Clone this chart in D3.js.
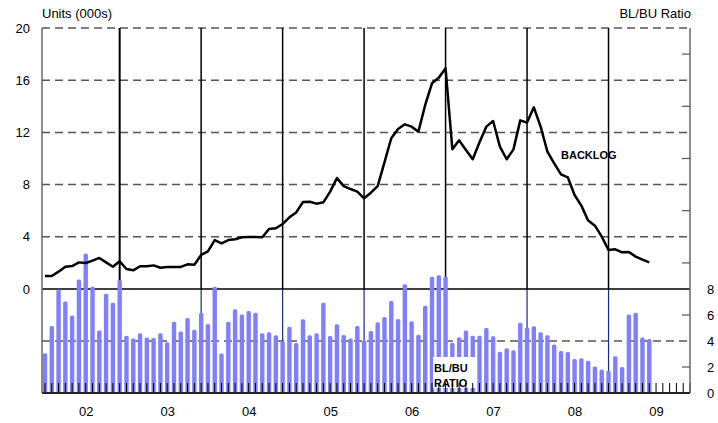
<!DOCTYPE html>
<html>
<head>
<meta charset="utf-8">
<script src="https://cdn.jsdelivr.net/npm/d3@7"></script>
<style>
  body { margin: 0; background: #fff; }
  svg { font-family: Arial, "Liberation Sans", sans-serif; }
</style>
</head>
<body>
<svg id="chart" width="718" height="423"></svg>
<script>
// monthly data, Jan 02 .. Jun 09
let years = ['02', '03', '04', '05', '06', '07', '08', '09']
let backlog = [
  1.0, 1.0, 1.33, 1.71, 1.76, 2.04, 1.99, 2.17, 2.38, 2.04, 1.71, 2.12,
  1.53, 1.43, 1.74, 1.74, 1.81, 1.63, 1.69, 1.69, 1.69, 1.89, 1.86, 2.61,
  2.89, 3.75, 3.5, 3.75, 3.81, 3.96, 3.98, 3.98, 3.96, 4.6, 4.65, 4.98,
  5.49, 5.87, 6.67, 6.69, 6.54, 6.64, 7.46, 8.5, 7.88, 7.66, 7.46, 6.95,
  7.38, 7.89, 9.71, 11.55, 12.26, 12.62, 12.44, 12.06, 14.1, 15.76, 16.19, 16.91,
  10.7, 11.39, 10.65, 9.94, 11.24, 12.44, 12.87, 10.91, 9.94, 10.7, 12.92, 12.75,
  13.92, 12.44, 10.52, 9.63, 8.79, 8.56, 7.2, 6.39, 5.24, 4.85, 4.01, 2.99,
  3.04, 2.81, 2.84, 2.48, 2.25, 2.04
]
let ratio = [
  3.05, 5.15, 7.97, 7.03, 5.97, 8.74, 10.74, 8.18, 4.8, 7.64, 6.95, 8.69,
  4.41, 4.2, 4.59, 4.26, 4.23, 4.59, 3.9, 5.49, 4.74, 5.77, 4.87, 6.18,
  5.31, 8.18, 3.03, 5.49, 6.44, 6.03, 6.31, 6.18, 4.59, 4.67, 4.44, 4.0,
  5.1, 3.85, 5.67, 4.44, 4.59, 6.95, 4.38, 5.28, 4.46, 4.2, 5.15, 4.03,
  4.77, 5.44, 5.85, 7.08, 5.69, 8.36, 5.51, 4.49, 6.72, 8.95, 9.05, 8.97,
  3.87, 4.28, 4.8, 4.41, 4.41, 5.0, 4.36, 3.18, 3.44, 3.28, 5.41, 5.03,
  5.13, 4.67, 4.44, 3.74, 3.23, 3.15, 2.62, 2.67, 2.49, 2.03, 1.8, 1.72,
  2.82, 2.0, 6.03, 6.18, 4.26, 4.15
]
let leftTicks = [0, 4, 8, 12, 16, 20]
let ratioTicks = [0, 2, 4, 6, 8]

let svg = d3.select('#chart')
let xL = 42, xR = 690, yTop = 28, yMid = 289, yBot = 393

let x = d3.scaleLinear().domain([-0.44, 95]).range([xL, xR])
let yL = d3.scaleLinear().domain([0, 20]).range([yMid, yTop])
let yR = d3.scaleLinear().domain([0, 8]).range([yBot, yMid])

let nMonths = years.length * 12
let yearEnds = years.slice(0, -1).map((d, i) => 11 + 12 * i)
let yearMids = years.map((d, i) => 6 + 12 * i)

// dashed grid
let grid = svg.append('g')
grid.selectAll('line.gl')
  .data(leftTicks.filter(d => d > 0))
  .enter().append('line')
  .attr('x1', xL).attr('x2', xR)
  .attr('y1', d => yL(d)).attr('y2', d => yL(d))
  .attr('stroke', '#555').attr('stroke-width', 1.5)
  .attr('stroke-dasharray', '8,5')
grid.append('line')
  .attr('x1', xL).attr('x2', xR)
  .attr('y1', yR(4)).attr('y2', yR(4))
  .attr('stroke', '#555').attr('stroke-width', 1.5)
  .attr('stroke-dasharray', '8,5')

// year separators
let sep = svg.append('g')
sep.selectAll('line.up')
  .data(yearEnds).enter().append('line')
  .attr('x1', d => x(d)).attr('x2', d => x(d))
  .attr('y1', yTop).attr('y2', yMid)
  .attr('stroke', '#000').attr('stroke-width', (d, i) => i == 0 ? 2 : 1.5)
sep.selectAll('line.down')
  .data(yearEnds).enter().append('line')
  .attr('x1', d => x(d)).attr('x2', d => x(d))
  .attr('y1', yMid).attr('y2', yBot)
  .attr('stroke', '#1a2a80').attr('stroke-width', 1.2)

// zero line
svg.append('line')
  .attr('x1', xL).attr('x2', xR)
  .attr('y1', yMid).attr('y2', yMid)
  .attr('stroke', '#000').attr('stroke-width', 1.5)

// ratio bars
svg.append('g').selectAll('rect')
  .data(ratio).enter().append('rect')
  .attr('x', (d, i) => x(i) - 2.2)
  .attr('width', 4.4)
  .attr('y', d => yR(d))
  .attr('height', d => yBot - yR(d))
  .attr('rx', 1.5)
  .attr('fill', '#8080ff')

// label box
svg.append('rect')
  .attr('x', 433).attr('y', 357).attr('width', 43).attr('height', 31)
  .attr('fill', '#fff')
svg.append('text').text('BL/BU')
  .attr('x', 434).attr('y', 372)
  .attr('font-size', 11).attr('font-weight', 'bold')
svg.append('text').text('RATIO')
  .attr('x', 434).attr('y', 387)
  .attr('font-size', 11).attr('font-weight', 'bold')

// month ticks
svg.append('g').selectAll('line')
  .data(d3.range(nMonths)).enter().append('line')
  .attr('x1', d => x(d)).attr('x2', d => x(d))
  .attr('y1', yBot - 10).attr('y2', yBot)
  .attr('stroke', '#000').attr('stroke-width', 1)

// baseline
svg.append('line')
  .attr('x1', xL).attr('x2', xR)
  .attr('y1', yBot).attr('y2', yBot)
  .attr('stroke', '#222').attr('stroke-width', 2)

// backlog line
let line = d3.line().x((d, i) => x(i)).y(d => yL(d))
svg.append('path')
  .datum(backlog)
  .attr('d', line)
  .attr('fill', 'none')
  .attr('stroke', '#000')
  .attr('stroke-width', 2.5)
  .attr('stroke-linejoin', 'round')

svg.append('text').text('BACKLOG')
  .attr('x', 561).attr('y', 159)
  .attr('font-size', 11).attr('font-weight', 'bold')

// frame sides
svg.append('line')
  .attr('x1', xL).attr('x2', xL).attr('y1', yTop).attr('y2', yBot)
  .attr('stroke', '#666').attr('stroke-width', 1.5)
svg.append('line')
  .attr('x1', xR).attr('x2', xR).attr('y1', yTop).attr('y2', yBot)
  .attr('stroke', '#666').attr('stroke-width', 1.5)

// right minor ticks
let minorL = [2, 6, 10, 14, 18]
svg.append('g').selectAll('line')
  .data(minorL).enter().append('line')
  .attr('x1', xR - 8).attr('x2', xR)
  .attr('y1', d => yL(d)).attr('y2', d => yL(d))
  .attr('stroke', '#555').attr('stroke-width', 1.2)
svg.append('g').selectAll('line')
  .data([2, 6]).enter().append('line')
  .attr('x1', xR - 8).attr('x2', xR)
  .attr('y1', d => yR(d)).attr('y2', d => yR(d))
  .attr('stroke', '#555').attr('stroke-width', 1.2)

// axes (labels only)
let axL = svg.append('g')
  .attr('transform', `translate(${xL},0)`)
  .call(d3.axisLeft(yL).tickValues(leftTicks).tickSize(0).tickPadding(12))
let axR = svg.append('g')
  .attr('transform', `translate(${xR},0)`)
  .call(d3.axisRight(yR).tickValues(ratioTicks).tickSize(0).tickPadding(17))
let axB = svg.append('g')
  .attr('transform', `translate(0,${yBot})`)
  .call(d3.axisBottom(x).tickValues(yearMids).tickFormat((d, i) => years[i]).tickSize(0).tickPadding(14))

;[axL, axR, axB].forEach(a => {
  a.select('.domain').remove()
  a.selectAll('text')
    .attr('font-size', 13)
    .attr('font-family', 'Arial, "Liberation Sans", sans-serif')
    .attr('fill', '#000')
})

// titles
svg.append('text').text('Units (000s)')
  .attr('x', xL).attr('y', 18)
  .attr('font-size', 13)
svg.append('text').text('BL/BU Ratio')
  .attr('x', xR + 1).attr('y', 18)
  .attr('text-anchor', 'end')
  .attr('font-size', 13)
</script>
</body>
</html>
